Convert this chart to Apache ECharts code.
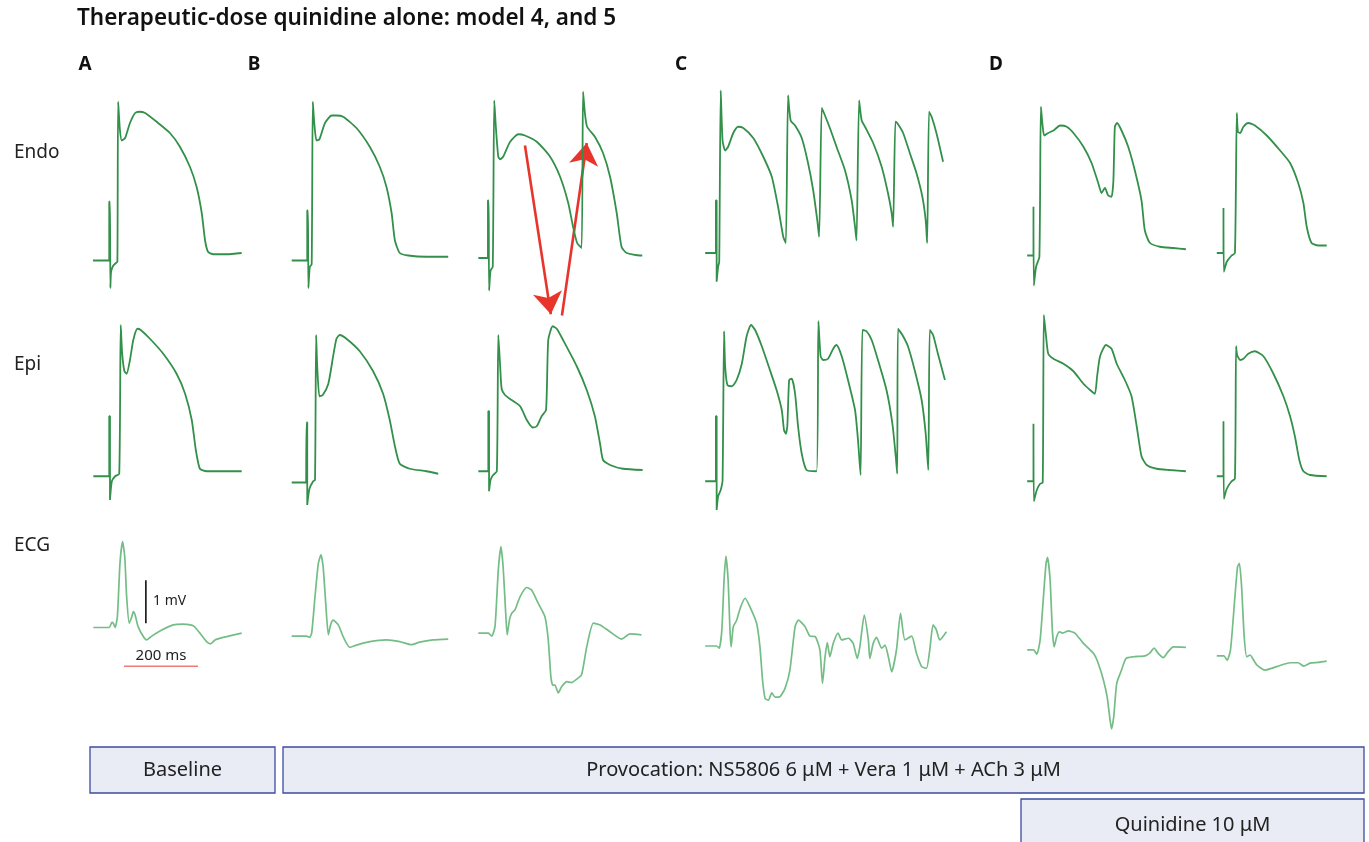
<!DOCTYPE html>
<html>
<head>
<meta charset="UTF-8">
<title>quinidine traces</title>
<script src="https://cdn.jsdelivr.net/npm/echarts@6/dist/echarts.min.js"></script>
<style>
  html, body { margin: 0; padding: 0; background: #fff; }
  #chart { width: 1369px; height: 842px; }
</style>
</head>
<body>
<div id="chart"></div>
<script>
// traces: [time ms, value], APs in mV, ECG in mV
var endoA = [[8,-87],[49,-87],[52,-87],[52,-40],[54,-40],[55,-109],[57,-96],[63,-91],[70,-89],[74,-88],[76,40],[81,17],[86,9],[95,11],[108,23],[122,31],[133,32],[149,31],[180,24],[216,15],[243,4],[270,-12],[288,-28],[302,-49],[311,-71],[319,-80],[333,-82],[369,-82],[410,-81]];
var endoB1 = [[10,-87],[50,-87],[52,-87],[52,-47],[54,-47],[55,-109],[59,-92],[64,-90],[67,40],[71,23],[77,9],[85,10],[100,23],[118,29],[131,29],[149,28],[185,19],[221,4],[248,-12],[266,-28],[280,-49],[289,-71],[302,-81],[325,-83],[374,-84],[433,-84]];
var endoB2 = [[9,-85],[32,-85],[35,-85],[35,-39],[37,-39],[38,-111],[42,-95],[48,-92],[52,41],[57,17],[63,-4],[68,-6],[76,-4],[95,8],[117,14],[135,13],[167,8],[203,-4],[230,-20],[252,-41],[265,-60],[276,-73],[288,-77],[292,48],[297,31],[303,20],[324,12],[346,-1],[365,-20],[383,-49],[396,-76],[410,-81],[446,-83],[452,-83]];
var endoC = [[14,-81],[41,-81],[43,-81],[43,-39],[45,-39],[45,-104],[49,-92],[52,-88],[56,49],[61,9],[68,1],[76,4],[90,15],[103,20],[117,19],[144,11],[171,-4],[194,-20],[211,-44],[225,-68],[232,-73],[238,45],[245,25],[257,21],[275,11],[292,-9],[306,-31],[317,-55],[322,-68],[329,35],[335,31],[351,19],[369,4],[392,-15],[410,-39],[419,-60],[423,-71],[430,41],[437,25],[446,20],[468,7],[491,-12],[508,-33],[518,-49],[522,-60],[528,24],[533,23],[549,15],[567,-1],[585,-17],[601,-36],[610,-55],[614,-73],[619,32],[626,28],[639,15],[657,-8]];
var endoD1 = [[14,-83],[29,-83],[31,-83],[31,-44],[32,-44],[32,-107],[38,-92],[47,-84],[51,36],[56,20],[60,13],[71,15],[85,17],[103,21],[121,20],[139,15],[166,4],[188,-9],[206,-25],[215,-33],[224,-29],[233,-35],[242,-36],[247,-23],[251,20],[257,23],[269,17],[287,4],[305,-15],[323,-39],[332,-63],[346,-73],[373,-76],[409,-77],[443,-78]];
var endoD2 = [[13,-81],[29,-81],[31,-81],[31,-45],[32,-45],[32,-96],[40,-88],[53,-83],[62,-81],[67,31],[70,16],[76,15],[85,20],[98,23],[116,21],[148,13],[184,1],[211,-9],[233,-25],[247,-41],[256,-60],[269,-73],[287,-75],[310,-75]];

var epiA = [[9,-86],[49,-86],[52,-86],[52,-38],[54,-38],[54,-105],[59,-90],[68,-86],[79,-84],[83,35],[87,12],[93,-2],[99,-4],[108,7],[117,23],[128,32],[137,31],[162,24],[198,12],[234,-4],[257,-20],[275,-41],[286,-65],[297,-80],[315,-82],[360,-82],[410,-82]];
var epiB1 = [[10,-91],[49,-91],[50,-91],[50,-43],[52,-43],[52,-109],[58,-96],[68,-90],[73,-89],[76,27],[79,2],[85,-22],[94,-21],[109,-12],[122,10],[131,24],[140,27],[158,24],[194,14],[230,-2],[257,-20],[275,-41],[289,-62],[302,-76],[329,-80],[374,-82],[406,-84]];
var epiB2 = [[9,-82],[33,-82],[36,-82],[36,-34],[38,-34],[38,-98],[42,-89],[49,-85],[59,-82],[63,27],[68,2],[72,-16],[81,-21],[99,-25],[122,-30],[140,-41],[156,-47],[167,-46],[180,-38],[192,-33],[198,23],[210,34],[221,32],[238,23],[275,2],[302,-17],[324,-38],[338,-60],[346,-73],[365,-77],[400,-80],[453,-81]];
var epiC = [[14,-90],[41,-90],[43,-90],[43,-38],[45,-38],[45,-113],[49,-102],[56,-97],[61,-89],[65,30],[68,2],[74,-13],[86,-14],[99,-9],[113,4],[126,26],[138,35],[149,31],[167,18],[189,-1],[207,-17],[221,-33],[227,-49],[232,-52],[236,-46],[241,-9],[248,-8],[257,-20],[265,-46],[275,-68],[288,-81],[315,-82],[320,38],[326,10],[333,7],[346,8],[360,16],[369,19],[383,10],[400,-9],[419,-33],[427,-57],[434,-85],[439,31],[450,30],[464,23],[481,7],[504,-17],[520,-44],[529,-70],[533,-84],[535,32],[547,27],[562,18],[581,-2],[599,-25],[610,-52],[617,-81],[621,31],[630,27],[643,12],[662,-9]];
var epiD1 = [[14,-90],[29,-90],[31,-90],[31,-44],[32,-44],[32,-106],[40,-97],[49,-92],[56,-91],[59,43],[65,26],[71,12],[85,8],[112,4],[139,-2],[166,-12],[184,-17],[197,-20],[203,-6],[211,10],[227,19],[242,16],[256,4],[278,-9],[296,-22],[310,-46],[323,-70],[337,-77],[364,-80],[400,-81],[443,-82]];
var epiD2 = [[13,-86],[29,-86],[31,-86],[31,-42],[32,-42],[32,-104],[40,-96],[53,-90],[62,-88],[65,18],[68,11],[76,7],[85,8],[98,12],[116,14],[139,10],[166,-4],[193,-22],[211,-38],[224,-54],[236,-73],[247,-82],[265,-85],[310,-86]];

var ecgA = [[9,0],[52,0],[59,0.12],[63,0.1],[68,0],[74,0.25],[81,1.49],[88,2.0],[94,1.64],[99,0.72],[106,0.1],[113,0.25],[117,0.37],[122,0.29],[130,0.02],[144,-0.21],[153,-0.29],[167,-0.2],[194,-0.06],[225,0.06],[252,0.08],[279,0.04],[297,-0.13],[315,-0.33],[326,-0.38],[338,-0.29],[360,-0.23],[410,-0.13]];
var ecgB1 = [[10,-0.2],[50,-0.2],[58,-0.23],[64,-0.13],[73,0.72],[82,1.49],[89,1.69],[95,1.41],[102,0.56],[109,-0.17],[115,0.06],[122,0.17],[136,0.06],[149,-0.21],[167,-0.46],[185,-0.41],[221,-0.33],[266,-0.29],[302,-0.33],[334,-0.4],[356,-0.34],[392,-0.29],[433,-0.27]];
var ecgB2 = [[9,-0.13],[36,-0.13],[45,-0.2],[54,0.02],[63,1.34],[70,1.88],[76,1.41],[83,0.33],[87,-0.17],[93,0.17],[99,0.33],[108,0.41],[122,0.72],[140,0.93],[153,0.87],[171,0.56],[189,0.25],[198,-0.29],[205,-1.14],[210,-1.34],[216,-1.34],[225,-1.52],[234,-1.38],[248,-1.26],[261,-1.28],[275,-1.2],[288,-1.1],[302,-0.45],[320,0.1],[338,0.06],[365,-0.1],[396,-0.27],[419,-0.15],[450,-0.17]];
var ecgC = [[14,-0.43],[45,-0.43],[52,-0.48],[59,-0.06],[65,1.1],[70,1.66],[76,1.1],[81,-0.06],[84,-0.45],[90,0.02],[99,0.17],[110,0.48],[122,0.68],[135,0.48],[153,0.1],[162,-0.45],[169,-1.22],[176,-1.65],[185,-1.69],[194,-1.52],[203,-1.62],[216,-1.61],[230,-1.41],[243,-0.99],[257,0.02],[266,0.17],[284,0.02],[297,-0.2],[311,-0.21],[324,-0.52],[331,-1.3],[338,-0.68],[344,-0.35],[351,-0.68],[360,-0.37],[373,-0.13],[383,-0.29],[401,-0.25],[414,-0.37],[425,-0.72],[432,-0.45],[444,0.29],[455,-0.29],[459,-0.72],[468,-0.37],[477,-0.23],[491,-0.48],[500,-0.41],[509,-0.68],[518,-1.03],[531,-0.52],[542,0.33],[554,-0.29],[572,-0.2],[585,-0.6],[599,-0.91],[612,-0.95],[621,-0.52],[630,0.06],[639,-0.06],[648,-0.29],[666,-0.1]];
var ecgD1 = [[14,-0.52],[31,-0.52],[40,-0.62],[49,-0.29],[58,0.72],[65,1.49],[69,1.63],[76,1.1],[82,-0.06],[87,-0.45],[94,-0.21],[101,-0.1],[110,-0.13],[125,-0.08],[143,-0.13],[166,-0.37],[193,-0.6],[206,-0.83],[220,-1.22],[230,-1.61],[238,-2.15],[242,-2.36],[248,-2.07],[256,-1.3],[269,-0.99],[281,-0.72],[301,-0.68],[332,-0.66],[346,-0.59],[357,-0.48],[368,-0.6],[382,-0.7],[395,-0.56],[409,-0.45],[443,-0.46]];
var ecgD2 = [[13,-0.66],[32,-0.66],[41,-0.76],[50,-0.52],[62,0.72],[69,1.41],[74,1.49],[80,0.95],[87,-0.21],[94,-0.68],[103,-0.64],[110,-0.72],[121,-0.87],[143,-0.99],[175,-0.91],[211,-0.82],[233,-0.82],[248,-0.9],[265,-0.83],[287,-0.81],[310,-0.78]];

// scale bars (A, ECG) and the two arrows in B (endo mV units, spanning both rows)
var barMv = [[151, 0.1], [151, 1.1]];
var barMs = [[92, -0.9], [292, -0.9]];
var arrows = [
  [[135, 5], [205, -130]],
  [[235, -131], [302, 7]]
];

var panelLetters = ['A', 'B', 'C', 'D'];
var rowNames = ['Endo', 'Epi', 'ECG'];
var boxLabels = ['Baseline', 'Provocation: NS5806 6 \u03bcM + Vera 1 \u03bcM + ACh 3 \u03bcM', 'Quinidine 10 \u03bcM'];

var MS_PER_PX = 200 / 74;
var FONT = '"Noto Sans", "DejaVu Sans", sans-serif';

var columns = [
  {left: 90, width: 160},
  {left: 288, width: 164},
  {left: 475, width: 173},
  {left: 700, width: 250},
  {left: 1022, width: 173},
  {left: 1212, width: 123}
];
var rows = [
  {top: 83, height: 225, min: -125, max: 55, traces: [endoA, endoB1, endoB2, endoC, endoD1, endoD2], color: '#33904a', width: 1.8},
  {top: 300, height: 225, min: -125, max: 55, traces: [epiA, epiB1, epiB2, epiC, epiD1, epiD2], color: '#33904a', width: 1.8},
  {top: 520, height: 215, min: -2.5, max: 2.5, traces: [ecgA, ecgB1, ecgB2, ecgC, ecgD1, ecgD2], color: '#74bd86', width: 1.7}
];

var chart = echarts.init(document.getElementById('chart'));
var grid = [], xAxis = [], yAxis = [], series = [];

function addGrid(left, top, width, height, ymin, ymax) {
  var idx = grid.length;
  grid.push({left: left, top: top, width: width, height: height, show: false});
  xAxis.push({type: 'value', gridIndex: idx, min: 0, max: width * MS_PER_PX, show: false});
  yAxis.push({type: 'value', gridIndex: idx, min: ymin, max: ymax, show: false});
  return idx;
}

rows.forEach(function (row) {
  columns.forEach(function (col, ci) {
    var idx = addGrid(col.left, row.top, col.width, row.height, row.min, row.max);
    series.push({
      type: 'line', xAxisIndex: idx, yAxisIndex: idx,
      data: row.traces[ci], symbol: 'none', smooth: 0.2, clip: false, silent: true,
      lineStyle: {color: row.color, width: row.width}
    });
  });
});

// scale bars sit in the ECG grid of column A
var ecgA_idx = 12;
series.push({type: 'line', xAxisIndex: ecgA_idx, yAxisIndex: ecgA_idx, data: barMv, symbol: 'none', clip: false, silent: true,
  lineStyle: {color: '#111', width: 1.6}});
series.push({type: 'line', xAxisIndex: ecgA_idx, yAxisIndex: ecgA_idx, data: barMs, symbol: 'none', clip: false, silent: true,
  lineStyle: {color: '#f07a7a', width: 1.6}});

// arrows overlay for column B2
var arrowIdx = addGrid(475, 83, 173, 450, 55 - 0.8 * 450, 55);
series.push({
  type: 'lines', coordinateSystem: 'cartesian2d', xAxisIndex: arrowIdx, yAxisIndex: arrowIdx,
  symbol: ['none', 'arrow'], symbolSize: [15, 22], silent: true,
  lineStyle: {color: '#e8352b', width: 2.6, opacity: 1, curveness: 0},
  data: arrows.map(function (a) { return {coords: a}; })
});

var graphic = [
  {type: 'text', left: 77, top: 7, style: {text: 'Therapeutic-dose quinidine alone: model 4, and 5', font: '600 22.5px ' + FONT, fill: '#111'}}
];
[85, 254, 681, 996].forEach(function (x, i) {
  graphic.push({type: 'text', x: x, y: 65, style: {text: panelLetters[i], font: 'bold 19px ' + FONT, fill: '#111',
    align: 'center', verticalAlign: 'middle', textAlign: 'center', textVerticalAlign: 'middle'}});
});
[153, 365, 546].forEach(function (y, i) {
  graphic.push({type: 'text', x: 14, y: y, style: {text: rowNames[i], font: '19px ' + FONT, fill: '#222',
    verticalAlign: 'middle', textVerticalAlign: 'middle'}});
});
graphic.push({type: 'text', x: 153, y: 601, style: {text: '1 mV', font: '14px ' + FONT, fill: '#222', verticalAlign: 'middle', textVerticalAlign: 'middle'}});
graphic.push({type: 'text', x: 161, y: 656, style: {text: '200 ms', font: '15px ' + FONT, fill: '#222',
  align: 'center', verticalAlign: 'middle', textAlign: 'center', textVerticalAlign: 'middle'}});

var boxes = [
  {x: 90, y: 747, w: 185, h: 46},
  {x: 283, y: 747, w: 1081, h: 46},
  {x: 1021, y: 799, w: 343, h: 50}
];
boxes.forEach(function (b, i) {
  graphic.push({type: 'rect', shape: {x: b.x, y: b.y, width: b.w, height: b.h},
    style: {fill: '#e9ebf5', stroke: '#3d4c9e', lineWidth: 1.3}});
  graphic.push({type: 'text', x: b.x + b.w / 2, y: i === 2 ? 825 : b.y + b.h / 2, style: {text: boxLabels[i], font: '20px ' + FONT, fill: '#222',
    align: 'center', verticalAlign: 'middle', textAlign: 'center', textVerticalAlign: 'middle'}});
});

chart.setOption({
  animation: false,
  backgroundColor: '#fff',
  grid: grid,
  xAxis: xAxis,
  yAxis: yAxis,
  series: series,
  graphic: graphic
});
</script>
</body>
</html>
